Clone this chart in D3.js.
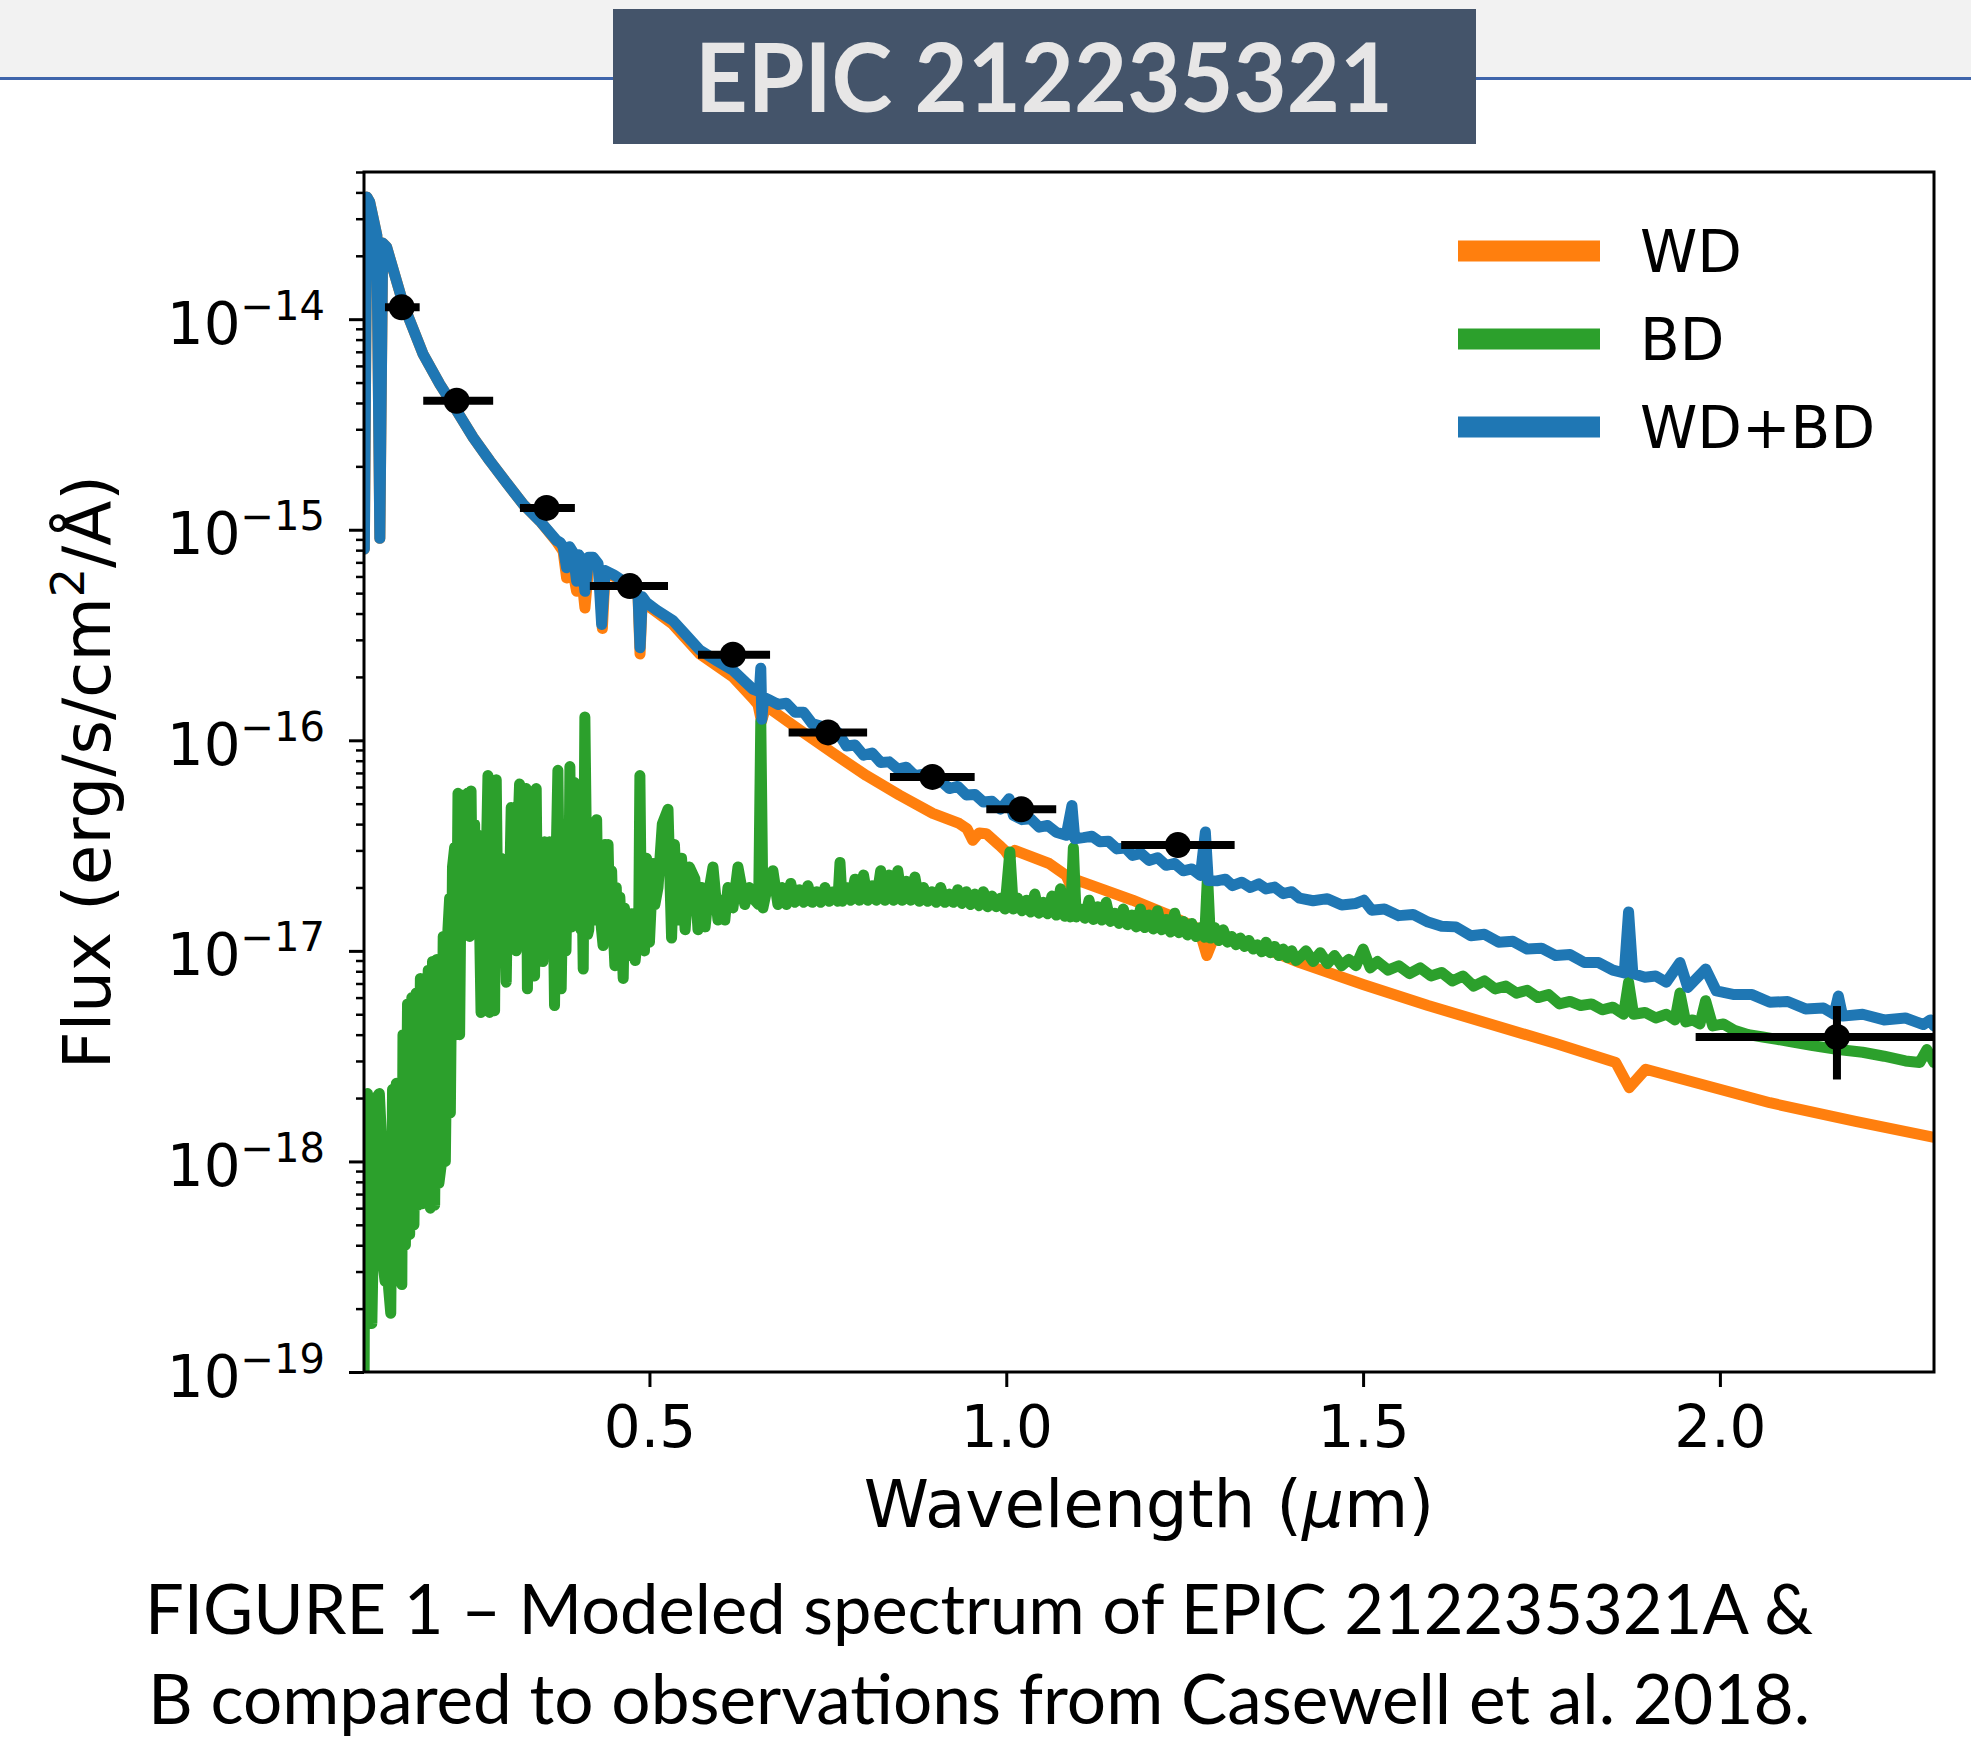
<!DOCTYPE html>
<html>
<head>
<meta charset="utf-8">
<script src="https://cdn.jsdelivr.net/npm/d3@7"></script>
<style>
  body { margin: 0; background: #fff; }
  svg { display: block; }
</style>
</head>
<body>
<div class="chart"></div>
<script>
// ---- text ----
var titleText = "EPIC 212235321";
var captionLines = ["FIGURE 1 \u2013 Modeled spectrum of EPIC 212235321A &",
                    "B compared to observations from Casewell et al. 2018."];
var seriesNames = ["WD", "BD", "WD+BD"];
var xTicks = [0.5, 1.0, 1.5, 2.0];
var yTicks = [1e-19, 1e-18, 1e-17, 1e-16, 1e-15, 1e-14];

// ---- white dwarf model (wavelength in micron, flux) ----
var wdWave = [0.1005, 0.1040, 0.1080, 0.1130, 0.1180, 0.1222, 0.1262, 0.1317, 0.1550, 0.1830,
  0.2064, 0.2300, 0.2531, 0.2765, 0.2998, 0.3232, 0.3465, 0.3698, 0.3790, 0.3839,
  0.3890, 0.3979, 0.4030, 0.4096, 0.4150, 0.4212, 0.4300, 0.4340, 0.4380, 0.4634,
  0.4774, 0.4840, 0.4868, 0.4900, 0.4961, 0.5330, 0.5706, 0.6170, 0.6450, 0.6520,
  0.6570, 0.6620, 0.6690, 0.7106, 0.7570, 0.8040, 0.8500, 0.8970, 0.9340, 0.9450,
  0.9530, 0.9620, 0.9720, 0.9900, 0.9980, 1.0040, 1.0120, 1.0600, 1.0840, 1.0930,
  1.1000, 1.1770, 1.2240, 1.2700, 1.2810, 1.2920, 1.3640, 1.4110, 1.5010, 1.5910,
  1.7700, 1.8540, 1.8730, 1.8960, 2.0700, 2.1900, 2.3000];
var wdFlux = [8.1e-16, 3.8e-14, 3.6e-14, 3.0e-14, 2.5e-14, 9.1e-16, 2.3e-14, 2.2e-14, 1.18e-14, 6.8e-15,
  4.9e-15, 3.67e-15, 2.74e-15, 2.12e-15, 1.67e-15, 1.32e-15, 1.1e-15, 8.8e-16, 7.9e-16, 5.9e-16,
  7.4e-16, 5.1e-16, 6.9e-16, 4.25e-16, 6.8e-16, 6.9e-16, 6.5e-16, 3.4e-16, 6.3e-16, 5.7e-16,
  5.3e-16, 4.8e-16, 2.57e-16, 4.7e-16, 4.4e-16, 3.55e-16, 2.57e-16, 2.0e-16, 1.58e-16, 1.48e-16,
  1.23e-16, 1.41e-16, 1.41e-16, 1.12e-16, 8.7e-17, 6.8e-17, 5.5e-17, 4.5e-17, 4.03e-17, 3.8e-17,
  3.35e-17, 3.63e-17, 3.6e-17, 3.18e-17, 3.0e-17, 2.8e-17, 3.0e-17, 2.6e-17, 2.28e-17, 1.94e-17,
  2.16e-17, 1.74e-17, 1.5e-17, 1.27e-17, 9.5e-18, 1.18e-17, 1.02e-17, 8.8e-18, 6.9e-18, 5.5e-18,
  3.63e-18, 2.95e-18, 2.24e-18, 2.74e-18, 1.9e-18, 1.55e-18, 1.3e-18];

// ---- brown dwarf model, in three stretches ----
var bdUvWave = [0.1000, 0.1015, 0.1050, 0.1075, 0.1110, 0.1140, 0.1170, 0.1215, 0.1245, 0.1270,
  0.1295, 0.1320, 0.1345, 0.1375, 0.1400, 0.1430, 0.1453, 0.1490, 0.1530, 0.1546,
  0.1580, 0.1610, 0.1640, 0.1670, 0.1700, 0.1730, 0.1760, 0.1790, 0.1820, 0.1850,
  0.1880, 0.1900, 0.1930, 0.1960, 0.1990, 0.2020, 0.2050, 0.2080, 0.2110, 0.2140,
  0.2176, 0.2200, 0.2210];
var bdUvFlux = [6e-20, 2.0e-18, 2.1e-18, 5.0e-19, 1.7e-19, 6.3e-19, 2.0e-18, 2.1e-18, 1.3e-18, 3.2e-19,
  2.7e-19, 7.9e-19, 2.5e-19, 1.9e-19, 2.2e-18, 3.2e-19, 2.35e-18, 4.0e-19, 2.6e-19, 4.0e-18,
  4.0e-19, 5.6e-18, 4.5e-19, 6.0e-18, 5.0e-19, 6.3e-18, 6.2e-19, 7.4e-18, 6.3e-19, 7.1e-18,
  6.3e-19, 8.1e-18, 6.0e-19, 8.9e-18, 6.2e-19, 9.1e-18, 7.9e-19, 9.5e-19, 1.17e-17, 1.0e-18,
  1.26e-17, 1.78e-17, 1.7e-18];

var bdVisWave = [0.2240, 0.2270, 0.2290, 0.2317, 0.2340, 0.2370, 0.2410, 0.2435, 0.2450, 0.2465,
  0.2480, 0.2500, 0.2515, 0.2530, 0.2550, 0.2570, 0.2600, 0.2620, 0.2640, 0.2667,
  0.2685, 0.2700, 0.2720, 0.2737, 0.2750, 0.2760, 0.2790, 0.2810, 0.2830, 0.2853,
  0.2870, 0.2890, 0.2923, 0.2940, 0.2960, 0.2993, 0.3015, 0.3030, 0.3063, 0.3080,
  0.3100, 0.3133, 0.3155, 0.3180, 0.3200, 0.3220, 0.3250, 0.3273, 0.3290, 0.3310,
  0.3330, 0.3355, 0.3375, 0.3390, 0.3413, 0.3430, 0.3450, 0.3475, 0.3490, 0.3507,
  0.3530, 0.3550, 0.3570, 0.3585, 0.3600, 0.3625, 0.3645, 0.3670, 0.3690, 0.3717,
  0.3740, 0.3763, 0.3800, 0.3815, 0.3830, 0.3855, 0.3870, 0.3885, 0.3910, 0.3930,
  0.3950, 0.3965, 0.3985, 0.4000, 0.4020, 0.4040, 0.4055, 0.4072, 0.4095, 0.4120,
  0.4135, 0.4150, 0.4175, 0.4200, 0.4220, 0.4240, 0.4260, 0.4280, 0.4300, 0.4325,
  0.4350, 0.4365, 0.4380, 0.4400, 0.4420, 0.4445, 0.4470, 0.4495, 0.4516, 0.4535,
  0.4550, 0.4585, 0.4610, 0.4632, 0.4650, 0.4670, 0.4700, 0.4750, 0.4800, 0.4850,
  0.4866, 0.4890, 0.4930, 0.4960, 0.5000, 0.5050, 0.5076, 0.5120, 0.5180, 0.5260,
  0.5310, 0.5350, 0.5400, 0.5450, 0.5500, 0.5560, 0.5636, 0.5680, 0.5730, 0.5780,
  0.5830, 0.5890, 0.5960, 0.6010, 0.6056, 0.6100, 0.6170, 0.6240, 0.6336, 0.6400,
  0.6476, 0.6530, 0.6560, 0.6590, 0.6650, 0.6730];
var bdVisFlux = [2.5e-17, 3.1e-17, 4.0e-18, 5.6e-17, 4.0e-18, 5.5e-17, 1.2e-17, 4.5e-17, 5.6e-17, 1.5e-17,
  1.17e-17, 5.75e-17, 2.0e-17, 1.26e-17, 4.0e-17, 1.5e-17, 3.55e-17, 1.3e-17, 5.1e-18, 3.3e-17,
  1.4e-17, 1.0e-17, 3.5e-17, 6.8e-17, 1.5e-17, 5.1e-18, 4.0e-17, 1.3e-17, 5.2e-18, 6.5e-17,
  2.0e-17, 1.12e-17, 2.75e-17, 1.2e-17, 2.4e-17, 7.1e-18, 2.2e-17, 1.3e-17, 4.8e-17, 1.4e-17,
  2.6e-17, 1.0e-17, 3.5e-17, 6.2e-17, 1.6e-17, 1.26e-17, 3.8e-17, 5.9e-17, 6.6e-18, 2.8e-17,
  1.2e-17, 2.5e-17, 1.1e-17, 7.6e-18, 5.9e-17, 1.5e-17, 2.6e-17, 1.2e-17, 2.4e-17, 8.9e-18,
  3.3e-17, 1.2e-17, 2.6e-17, 1.3e-17, 3.3e-17, 1.2e-17, 2.6e-17, 5.5e-18, 2.5e-17, 7.2e-17,
  1.5e-17, 6.6e-18, 4.0e-17, 1.4e-17, 1.0e-17, 3.0e-17, 1.5e-17, 7.5e-17, 1.3e-17, 3.5e-17,
  6.3e-17, 1.6e-17, 3.0e-17, 5.9e-17, 1.5e-17, 1.26e-17, 2.2e-17, 8.2e-18, 1.29e-16, 2.5e-17,
  1.2e-17, 1.26e-17, 3.0e-17, 4.0e-17, 1.4e-17, 3.2e-17, 4.2e-17, 1.5e-17, 2.6e-17, 1.3e-17,
  1.06e-17, 2.5e-17, 3.2e-17, 1.4e-17, 3.2e-17, 1.3e-17, 2.4e-17, 1.2e-17, 8.5e-18, 2.0e-17,
  1.3e-17, 1.8e-17, 1.2e-17, 7.4e-18, 1.6e-17, 1.1e-17, 9.5e-18, 1.5e-17, 9.0e-18, 1.4e-17,
  6.8e-17, 1.1e-17, 1.0e-17, 2.75e-17, 1.1e-17, 2.6e-17, 1.66e-17, 2.0e-17, 4.0e-17, 4.7e-17,
  1.15e-17, 3.2e-17, 1.4e-17, 2.75e-17, 1.26e-17, 2.5e-17, 2.2e-17, 1.26e-17, 2.0e-17, 1.3e-17,
  1.9e-17, 2.5e-17, 1.4e-17, 1.74e-17, 1.4e-17, 2.0e-17, 1.6e-17, 2.5e-17, 1.66e-17, 2.0e-17,
  1.74e-17, 1.66e-17, 1.23e-16, 1.6e-17, 2.0e-17, 2.4e-17];

var bdIrWave = [0.6800, 0.6860, 0.6920, 0.6980, 0.7040, 0.7100, 0.7160, 0.7220, 0.7280, 0.7340,
  0.7400, 0.7460, 0.7520, 0.7580, 0.7640, 0.7670, 0.7700, 0.7760, 0.7820, 0.7880,
  0.7940, 0.8000, 0.8060, 0.8120, 0.8180, 0.8240, 0.8300, 0.8360, 0.8420, 0.8480,
  0.8540, 0.8600, 0.8660, 0.8720, 0.8780, 0.8840, 0.8900, 0.8960, 0.9020, 0.9080,
  0.9140, 0.9200, 0.9260, 0.9320, 0.9380, 0.9440, 0.9500, 0.9560, 0.9620, 0.9680,
  0.9740, 0.9800, 0.9860, 0.9920, 0.9980, 1.0050, 1.0100, 1.0160, 1.0220, 1.0280,
  1.0340, 1.0400, 1.0460, 1.0520, 1.0580, 1.0640, 1.0700, 1.0760, 1.0820, 1.0880,
  1.0900, 1.0940, 1.0980, 1.1040, 1.1100, 1.1160, 1.1220, 1.1280, 1.1340, 1.1400,
  1.1460, 1.1520, 1.1580, 1.1640, 1.1700, 1.1760, 1.1820, 1.1880, 1.1940, 1.2000,
  1.2060, 1.2120, 1.2180, 1.2240, 1.2300, 1.2360, 1.2420, 1.2480, 1.2540, 1.2600,
  1.2660, 1.2720, 1.2780, 1.2820, 1.2860, 1.2920, 1.2980, 1.3040, 1.3100, 1.3160,
  1.3220, 1.3280, 1.3340, 1.3400, 1.3460, 1.3520, 1.3580, 1.3640, 1.3700, 1.3760,
  1.3820, 1.3880, 1.3940, 1.4000, 1.4060, 1.4110, 1.4200, 1.4300, 1.4400, 1.4500,
  1.4600, 1.4700, 1.4800, 1.4900, 1.5000, 1.5100, 1.5200, 1.5350, 1.5500, 1.5650,
  1.5800, 1.5950, 1.6100, 1.6250, 1.6400, 1.6550, 1.6700, 1.6850, 1.7000, 1.7150,
  1.7300, 1.7450, 1.7600, 1.7750, 1.7900, 1.8050, 1.8200, 1.8350, 1.8500, 1.8650,
  1.8720, 1.8790, 1.8950, 1.9100, 1.9250, 1.9370, 1.9440, 1.9520, 1.9620, 1.9720,
  1.9800, 1.9900, 2.0050, 2.0200, 2.0400, 2.0600, 2.0800, 2.1000, 2.1300, 2.1660,
  2.2000, 2.2300, 2.2600, 2.2800, 2.2900, 2.3000];
var bdIrFlux = [1.66e-17, 2.0e-17, 1.66e-17, 2.09e-17, 1.7e-17, 1.95e-17, 1.7e-17, 2.04e-17, 1.7e-17, 1.91e-17,
  1.7e-17, 2.0e-17, 1.72e-17, 1.91e-17, 1.72e-17, 2.63e-17, 1.72e-17, 2.0e-17, 1.74e-17, 2.19e-17,
  1.74e-17, 2.29e-17, 1.74e-17, 2.04e-17, 1.74e-17, 2.4e-17, 1.74e-17, 2.29e-17, 1.74e-17, 2.4e-17,
  1.74e-17, 2.14e-17, 1.74e-17, 2.24e-17, 1.72e-17, 2.0e-17, 1.72e-17, 1.91e-17, 1.7e-17, 2.0e-17,
  1.7e-17, 1.86e-17, 1.7e-17, 1.95e-17, 1.68e-17, 1.91e-17, 1.66e-17, 1.86e-17, 1.64e-17, 1.91e-17,
  1.62e-17, 1.82e-17, 1.62e-17, 1.78e-17, 1.58e-17, 2.95e-17, 1.58e-17, 1.78e-17, 1.55e-17, 1.74e-17,
  1.53e-17, 1.86e-17, 1.51e-17, 1.7e-17, 1.5e-17, 1.82e-17, 1.48e-17, 1.97e-17, 1.46e-17, 1.66e-17,
  1.45e-17, 3.09e-17, 1.45e-17, 1.58e-17, 1.43e-17, 1.74e-17, 1.41e-17, 1.62e-17, 1.4e-17, 1.7e-17,
  1.38e-17, 1.51e-17, 1.35e-17, 1.58e-17, 1.33e-17, 1.48e-17, 1.3e-17, 1.58e-17, 1.29e-17, 1.48e-17,
  1.27e-17, 1.55e-17, 1.26e-17, 1.41e-17, 1.23e-17, 1.51e-17, 1.22e-17, 1.38e-17, 1.19e-17, 1.35e-17,
  1.17e-17, 1.29e-17, 1.16e-17, 2.29e-17, 1.15e-17, 1.29e-17, 1.12e-17, 1.26e-17, 1.1e-17, 1.17e-17,
  1.07e-17, 1.15e-17, 1.05e-17, 1.12e-17, 1.02e-17, 1.07e-17, 9.9e-18, 1.1e-17, 9.8e-18, 1.05e-17,
  9.5e-18, 1.02e-17, 9.3e-18, 1.0e-17, 9.0e-18, 9.3e-18, 1.0e-17, 8.9e-18, 9.8e-18, 8.7e-18,
  9.5e-18, 8.5e-18, 9.1e-18, 8.5e-18, 1.02e-17, 8.3e-18, 8.9e-18, 8.1e-18, 8.5e-18, 7.8e-18,
  8.3e-18, 7.6e-18, 7.9e-18, 7.2e-18, 7.6e-18, 6.8e-18, 7.2e-18, 6.6e-18, 6.8e-18, 6.3e-18,
  6.5e-18, 6.0e-18, 6.2e-18, 5.6e-18, 5.75e-18, 5.5e-18, 5.6e-18, 5.25e-18, 5.4e-18, 5.0e-18,
  7.1e-18, 5.0e-18, 5.1e-18, 4.8e-18, 5.0e-18, 4.7e-18, 6.3e-18, 4.6e-18, 4.7e-18, 4.5e-18,
  5.8e-18, 4.4e-18, 4.5e-18, 4.2e-18, 4.0e-18, 3.9e-18, 3.8e-18, 3.7e-18, 3.55e-18, 3.4e-18,
  3.3e-18, 3.16e-18, 3.0e-18, 2.95e-18, 3.4e-18, 2.95e-18];

// ---- combined model WD+BD ----
var sumWave = [0.1005, 0.1040, 0.1080, 0.1130, 0.1180, 0.1222, 0.1262, 0.1317, 0.1550, 0.1830,
  0.2064, 0.2300, 0.2531, 0.2765, 0.2998, 0.3232, 0.3465, 0.3698, 0.3750, 0.3790,
  0.3839, 0.3880, 0.3930, 0.3979, 0.4010, 0.4050, 0.4096, 0.4150, 0.4212, 0.4280,
  0.4330, 0.4380, 0.4500, 0.4634, 0.4774, 0.4840, 0.4868, 0.4900, 0.4961, 0.5100,
  0.5330, 0.5500, 0.5706, 0.5950, 0.6170, 0.6350, 0.6450, 0.6540, 0.6560, 0.6575,
  0.6600, 0.6690, 0.6800, 0.6920, 0.7040, 0.7160, 0.7280, 0.7400, 0.7520, 0.7640,
  0.7760, 0.7880, 0.8000, 0.8120, 0.8240, 0.8360, 0.8480, 0.8600, 0.8720, 0.8840,
  0.8960, 0.9080, 0.9200, 0.9320, 0.9440, 0.9560, 0.9680, 0.9800, 0.9920, 1.0040,
  1.0100, 1.0220, 1.0340, 1.0460, 1.0580, 1.0700, 1.0840, 1.0920, 1.0960, 1.1080,
  1.1200, 1.1310, 1.1430, 1.1550, 1.1670, 1.1770, 1.1890, 1.2000, 1.2120, 1.2240,
  1.2360, 1.2480, 1.2600, 1.2720, 1.2790, 1.2830, 1.2950, 1.3070, 1.3170, 1.3300,
  1.3420, 1.3540, 1.3640, 1.3760, 1.3880, 1.4000, 1.4110, 1.4300, 1.4500, 1.4700,
  1.4900, 1.5010, 1.5120, 1.5300, 1.5500, 1.5700, 1.5910, 1.6100, 1.6300, 1.6510,
  1.6700, 1.6900, 1.7100, 1.7300, 1.7500, 1.7700, 1.7900, 1.8100, 1.8300, 1.8500,
  1.8660, 1.8720, 1.8780, 1.8950, 1.9100, 1.9250, 1.9440, 1.9550, 1.9800, 1.9950,
  2.0200, 2.0450, 2.0700, 2.0950, 2.1200, 2.1450, 2.1600, 2.1660, 2.1720, 2.2000,
  2.2300, 2.2600, 2.2850, 2.2950, 2.3000];
var sumFlux = [8.1e-16, 3.8e-14, 3.6e-14, 3.0e-14, 2.5e-14, 9.1e-16, 2.3e-14, 2.2e-14, 1.18e-14, 6.8e-15,
  4.9e-15, 3.67e-15, 2.74e-15, 2.12e-15, 1.67e-15, 1.32e-15, 1.1e-15, 8.9e-16, 8.7e-16, 8.3e-16,
  6.6e-16, 8.3e-16, 7.8e-16, 5.7e-16, 7.6e-16, 7.2e-16, 5.1e-16, 7.4e-16, 7.4e-16, 6.9e-16,
  3.55e-16, 6.4e-16, 6.1e-16, 5.7e-16, 5.3e-16, 4.9e-16, 2.75e-16, 4.8e-16, 4.5e-16, 4.15e-16,
  3.7e-16, 3.2e-16, 2.68e-16, 2.38e-16, 2.15e-16, 1.88e-16, 1.75e-16, 1.7e-16, 2.2e-16, 1.26e-16,
  1.6e-16, 1.55e-16, 1.48e-16, 1.5e-16, 1.36e-16, 1.36e-16, 1.2e-16, 1.17e-16, 1.05e-16, 1.09e-16,
  9.4e-17, 9.5e-17, 8.5e-17, 8.7e-17, 7.85e-17, 7.9e-17, 7.3e-17, 7.45e-17, 6.8e-17, 6.9e-17,
  6.37e-17, 6.43e-17, 5.9e-17, 6.04e-17, 5.5e-17, 5.53e-17, 5.09e-17, 5.13e-17, 4.71e-17, 5.28e-17,
  4.4e-17, 4.2e-17, 4.24e-17, 3.87e-17, 3.94e-17, 3.66e-17, 3.54e-17, 4.9e-17, 3.41e-17, 3.45e-17,
  3.5e-17, 3.3e-17, 3.32e-17, 3.05e-17, 3.08e-17, 2.84e-17, 2.9e-17, 2.69e-17, 2.77e-17, 2.55e-17,
  2.6e-17, 2.4e-17, 2.45e-17, 2.28e-17, 3.67e-17, 2.16e-17, 2.15e-17, 2.19e-17, 2.04e-17, 2.12e-17,
  2.0e-17, 2.08e-17, 1.97e-17, 2.01e-17, 1.87e-17, 1.91e-17, 1.78e-17, 1.73e-17, 1.77e-17, 1.65e-17,
  1.68e-17, 1.74e-17, 1.56e-17, 1.58e-17, 1.47e-17, 1.49e-17, 1.37e-17, 1.31e-17, 1.3e-17, 1.18e-17,
  1.2e-17, 1.1e-17, 1.11e-17, 1.02e-17, 1.03e-17, 9.5e-18, 9.6e-18, 8.8e-18, 8.8e-18, 8.1e-18,
  7.85e-18, 1.53e-17, 7.8e-18, 7.5e-18, 7.6e-18, 7.1e-18, 8.8e-18, 6.7e-18, 8.2e-18, 6.45e-18,
  6.2e-18, 6.2e-18, 5.7e-18, 5.75e-18, 5.3e-18, 5.35e-18, 5.0e-18, 6.1e-18, 4.9e-18, 5.0e-18,
  4.7e-18, 4.8e-18, 4.47e-18, 4.7e-18, 4.4e-18];

// ---- photometry (Casewell et al. 2018) ----
var obsWave   = [0.1528, 0.2298, 0.3558, 0.4725, 0.6170, 0.7503, 0.8965, 1.0210, 1.2405, 2.1640];
var obsFlux   = [1.14e-14, 4.1e-15, 1.27e-15, 5.4e-16, 2.55e-16, 1.09e-16, 6.7e-17, 4.7e-17, 3.18e-17, 3.9e-18];
var obsWaveLo = [0.1294, 0.1830, 0.3185, 0.4165, 0.5680, 0.6950, 0.8370, 0.9720, 1.1610, 1.9660];
var obsWaveHi = [0.1780, 0.2810, 0.3955, 0.5260, 0.6690, 0.8050, 0.9557, 1.0700, 1.3200, 2.3600];
var obsFluxLo = [null, null, null, null, null, null, null, null, null, 2.45e-18];
var obsFluxHi = [null, null, null, null, null, null, null, null, null, 5.47e-18];

var colors = ["#ff7f0e", "#2ca02c", "#1f77b4"];

function pairs(w, f) { return w.map(function (d, i) { return [d, f[i]]; }); }
var bdWave = bdUvWave.concat(bdVisWave, bdIrWave);
var bdFlux = bdUvFlux.concat(bdVisFlux, bdIrFlux);
var series = [pairs(wdWave, wdFlux), pairs(bdWave, bdFlux), pairs(sumWave, sumFlux)];

var W = 1971, H = 1763;
var margin = {top: 172, left: 364};
var width = 1570, height = 1200;
var font = "DejaVu Sans";

var svg = d3.select(".chart").append("svg")
    .attr("width", W)
    .attr("height", H);

// header band + title box
svg.append("rect").attr("x", 0).attr("y", 0).attr("width", W).attr("height", 78).attr("fill", "#f2f2f2");
svg.append("rect").attr("x", 0).attr("y", 77).attr("width", W).attr("height", 3).attr("fill", "#3f65ab");
svg.append("rect").attr("x", 613).attr("y", 9).attr("width", 863).attr("height", 135).attr("fill", "#44546a");
svg.append("text")
    .attr("x", 1044).attr("y", 112)
    .attr("text-anchor", "middle")
    .attr("font-family", "Lato").attr("font-weight", 700).attr("font-size", 96)
    .attr("fill", "#e7e6e6")
    .attr("textLength", 698).attr("lengthAdjust", "spacingAndGlyphs")
    .text(titleText);

var x = d3.scaleLinear().domain([0.1, 2.3]).range([0, width]);
var y = d3.scaleLog().domain([1e-19, 5e-14]).range([height, 0]);

var g = svg.append("g").attr("transform", "translate(" + margin.left + "," + margin.top + ")");

g.append("clipPath").attr("id", "plotclip")
  .append("rect").attr("width", width).attr("height", height);

var line = d3.line()
    .x(function (d) { return x(d[0]); })
    .y(function (d) { return y(d[1]); });

var plot = g.append("g").attr("clip-path", "url(#plotclip)");

plot.selectAll(".spec")
    .data(series)
    .enter().append("path")
    .attr("class", "spec")
    .attr("d", line)
    .attr("fill", "none")
    .attr("stroke", function (d, i) { return colors[i]; })
    .attr("stroke-width", 11)
    .attr("stroke-linejoin", "round")
    .attr("stroke-linecap", "round");

// error bars + markers
var obs = obsWave.map(function (d, i) {
  return {w: d, f: obsFlux[i], lo: obsWaveLo[i], hi: obsWaveHi[i], flo: obsFluxLo[i], fhi: obsFluxHi[i]};
});

plot.selectAll(".xerr").data(obs).enter().append("line")
    .attr("x1", function (d) { return x(d.lo); })
    .attr("x2", function (d) { return x(d.hi); })
    .attr("y1", function (d) { return y(d.f); })
    .attr("y2", function (d) { return y(d.f); })
    .attr("stroke", "#000").attr("stroke-width", 8);

plot.selectAll(".yerr").data(obs.filter(function (d) { return d.flo; })).enter().append("line")
    .attr("x1", function (d) { return x(d.w); })
    .attr("x2", function (d) { return x(d.w); })
    .attr("y1", function (d) { return y(d.flo); })
    .attr("y2", function (d) { return y(d.fhi); })
    .attr("stroke", "#000").attr("stroke-width", 8);

plot.selectAll(".pt").data(obs).enter().append("circle")
    .attr("cx", function (d) { return x(d.w); })
    .attr("cy", function (d) { return y(d.f); })
    .attr("r", 13)
    .attr("fill", "#000");

// axes
var xAxis = d3.axisBottom(x).tickValues(xTicks).tickFormat(d3.format(".1f"))
    .tickSize(15).tickPadding(19).tickSizeOuter(0);
var gx = g.append("g").attr("transform", "translate(0," + height + ")").call(xAxis);
gx.select(".domain").remove();
gx.selectAll("line").attr("stroke", "#000").attr("stroke-width", 3);
gx.selectAll("text").attr("font-family", font).attr("font-size", 58).attr("fill", "#000");

var minorTicks = [];
yTicks.forEach(function (t) {
  for (var k = 2; k <= 9; k++) { if (t * k <= 5.01e-14) minorTicks.push(t * k); }
});
var gyMinor = g.append("g").call(d3.axisLeft(y).tickValues(minorTicks).tickFormat("").tickSize(8).tickSizeOuter(0));
gyMinor.select(".domain").remove();
gyMinor.selectAll("line").attr("stroke", "#000").attr("stroke-width", 2.5);

var gy = g.append("g").call(d3.axisLeft(y).tickValues(yTicks).tickFormat("").tickSize(15).tickSizeOuter(0));
gy.select(".domain").remove();
gy.selectAll("line").attr("stroke", "#000").attr("stroke-width", 3);

gy.selectAll(".tick").append("text")
    .attr("x", -39).attr("y", 24)
    .attr("text-anchor", "end")
    .attr("font-family", font).attr("font-size", 58).attr("fill", "#000")
    .each(function (d) {
      var t = d3.select(this);
      t.append("tspan").text("10");
      t.append("tspan").attr("dy", -24).attr("font-size", 40)
        .text("\u2212" + Math.round(-Math.log10(d)));
    });

// frame
g.append("rect").attr("width", width).attr("height", height)
    .attr("fill", "none").attr("stroke", "#000").attr("stroke-width", 3);

// axis labels
var xl = svg.append("text")
    .attr("x", margin.left + width / 2).attr("y", 1527)
    .attr("text-anchor", "middle")
    .attr("font-family", font).attr("font-size", 66).attr("fill", "#000");
xl.append("tspan").text("Wavelength (");
xl.append("tspan").attr("font-style", "italic").text("\u03bc");
xl.append("tspan").text("m)");

var yl = svg.append("text")
    .attr("transform", "translate(110," + (margin.top + height / 2) + ") rotate(-90)")
    .attr("text-anchor", "middle")
    .attr("font-family", font).attr("font-size", 66).attr("fill", "#000");
yl.append("tspan").text("Flux (erg/s/cm");
yl.append("tspan").attr("dy", -26).attr("font-size", 46).text("2");
yl.append("tspan").attr("dy", 26).text("/\u00c5)");

// legend
var legend = svg.append("g").attr("transform", "translate(1458,251)");
var li = legend.selectAll(".leg").data(seriesNames).enter().append("g")
    .attr("transform", function (d, i) { return "translate(0," + (i * 88) + ")"; });
li.append("line").attr("x1", 0).attr("x2", 142).attr("y1", 0).attr("y2", 0)
    .attr("stroke", function (d, i) { return colors[i]; }).attr("stroke-width", 21);
li.append("text").attr("x", 182).attr("y", 21)
    .attr("font-family", font).attr("font-size", 58).attr("fill", "#000")
    .text(function (d) { return d; });

// caption
svg.selectAll(".cap").data(captionLines).enter().append("text")
    .attr("x", function (d, i) { return i ? 148 : 145; })
    .attr("y", function (d, i) { return i ? 1724 : 1634; })
    .attr("font-family", "Lato").attr("font-size", 70).attr("fill", "#000")
    .attr("textLength", function (d, i) { return i ? 1662 : 1668; })
    .attr("lengthAdjust", "spacingAndGlyphs")
    .text(function (d) { return d; });
</script>
</body>
</html>
